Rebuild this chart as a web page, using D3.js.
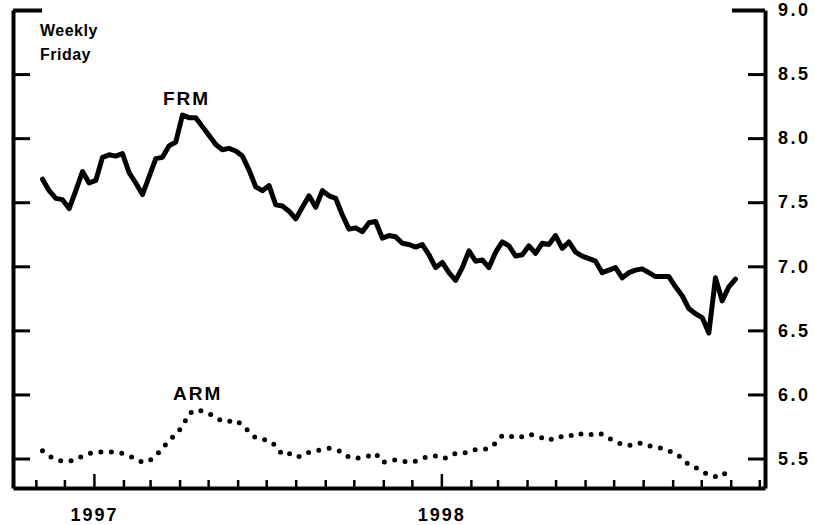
<!DOCTYPE html>
<html>
<head>
<meta charset="utf-8">
<script src="https://cdn.jsdelivr.net/npm/d3@7"></script>
<style>
  body { margin: 0; background: #fff; }
  svg text { font-family: "Liberation Sans", Arial, sans-serif; font-weight: bold; fill: #000; }
</style>
</head>
<body>
<div id="chart"></div>
<script>
// Mortgage rates, weekly (Friday), percent
const firstFriday = new Date(1996, 10, 8);

const frm = [
  7.68, 7.59, 7.53, 7.52, 7.45, 7.59, 7.74, 7.65, 7.67, 7.85,
  7.87, 7.86, 7.88, 7.73, 7.65, 7.56, 7.70, 7.84, 7.85, 7.94,
  7.97, 8.18, 8.16, 8.16, 8.09, 8.02, 7.95, 7.91, 7.92, 7.90,
  7.86, 7.75, 7.62, 7.59, 7.63, 7.48, 7.47, 7.43, 7.37, 7.46,
  7.55, 7.46, 7.59, 7.55, 7.53, 7.40, 7.29, 7.30, 7.27, 7.34,
  7.35, 7.22, 7.24, 7.23, 7.18, 7.17, 7.15, 7.17, 7.09, 6.99,
  7.03, 6.95, 6.89, 6.99, 7.12, 7.04, 7.05, 6.99, 7.11, 7.19,
  7.16, 7.08, 7.09, 7.16, 7.10, 7.18, 7.17, 7.24, 7.14, 7.19,
  7.11, 7.08, 7.06, 7.04, 6.95, 6.97, 6.99, 6.91, 6.95, 6.97,
  6.98, 6.95, 6.92, 6.92, 6.92, 6.84, 6.77, 6.67, 6.63, 6.60,
  6.48, 6.91, 6.73, 6.84, 6.90
];

const arm = [
  5.56, 5.52, 5.49, 5.48, 5.48, 5.49, 5.52, 5.54, 5.55, 5.55,
  5.55, 5.55, 5.54, 5.52, 5.50, 5.47, 5.48, 5.52, 5.58, 5.64,
  5.69, 5.75, 5.85, 5.88, 5.87, 5.85, 5.82, 5.79, 5.79, 5.80,
  5.76, 5.71, 5.66, 5.65, 5.64, 5.60, 5.53, 5.54, 5.51, 5.52,
  5.55, 5.56, 5.57, 5.58, 5.57, 5.55, 5.51, 5.50, 5.51, 5.52,
  5.54, 5.47, 5.48, 5.49, 5.48, 5.47, 5.48, 5.50, 5.52, 5.52,
  5.50, 5.51, 5.54, 5.54, 5.55, 5.57, 5.57, 5.58, 5.62, 5.68,
  5.68, 5.66, 5.67, 5.69, 5.68, 5.66, 5.64, 5.67, 5.67, 5.67,
  5.70, 5.69, 5.68, 5.70, 5.69, 5.66, 5.63, 5.61, 5.60, 5.62,
  5.62, 5.60, 5.59, 5.58, 5.56, 5.54, 5.50, 5.45, 5.43, 5.40,
  5.37, 5.36, 5.36, 5.42
];

const yTicks = [5.5, 6.0, 6.5, 7.0, 7.5, 8.0, 8.5, 9.0];

const width = 815, height = 525;
const plotLeft = 13, plotRight = 765, plotTop = 10, plotBottom = 488;

const dates = d3.timeFriday.every(1).range(firstFriday, d3.timeDay.offset(firstFriday, 7 * frm.length));

const svg = d3.select("#chart").append("svg")
    .attr("width", width)
    .attr("height", height);

const x = d3.scaleTime()
    .domain([new Date(1996, 9, 8), new Date(1998, 11, 7)])
    .range([plotLeft, plotRight]);

const y = d3.scaleLinear()
    .domain([5.27, 9])
    .range([plotBottom, plotTop]);

// axes
const xAxis = d3.axisBottom(x)
    .ticks(d3.timeMonth.every(1))
    .tickSizeInner(-8)
    .tickSizeOuter(0)
    .tickPadding(20)
    .tickFormat(d => d.getMonth() === 0 ? d3.timeFormat("%Y")(d) : "");

const gx = svg.append("g")
    .attr("transform", `translate(0,${plotBottom})`)
    .call(xAxis);
gx.selectAll(".tick line")
    .attr("y2", d => d.getMonth() === 0 ? -14 : -8)
    .attr("stroke-width", 2.5);
gx.selectAll("text").attr("font-size", 18).style("letter-spacing", "2px");

const yRight = d3.axisRight(y)
    .tickValues(yTicks)
    .tickSizeInner(-17)
    .tickSizeOuter(0)
    .tickPadding(13)
    .tickFormat(d3.format(".1f"));

const gr = svg.append("g")
    .attr("transform", `translate(${plotRight},0)`)
    .call(yRight);
gr.selectAll(".tick line")
    .attr("x2", d => d === 9 ? -33 : -17)
    .attr("stroke-width", d => d === 9 ? 4 : 3);
gr.selectAll("text").attr("font-size", 18).style("letter-spacing", "2.5px");

const yLeft = d3.axisLeft(y)
    .tickValues(yTicks)
    .tickSizeInner(-17)
    .tickSizeOuter(0)
    .tickFormat("");

const gl = svg.append("g")
    .attr("transform", `translate(${plotLeft},0)`)
    .call(yLeft);
gl.selectAll(".tick line")
    .attr("x2", d => d === 9 ? 29 : 17)
    .attr("stroke-width", d => d === 9 ? 4 : 3);

svg.selectAll(".domain")
    .attr("stroke", "#000")
    .attr("stroke-width", 4);
svg.selectAll(".tick line").attr("stroke", "#000");

// series
const line = d3.line()
    .x((d, i) => x(dates[i]))
    .y(d => y(d));

svg.append("path")
    .datum(frm)
    .attr("fill", "none")
    .attr("stroke", "#000")
    .attr("stroke-width", 5)
    .attr("stroke-linejoin", "round")
    .attr("stroke-linecap", "round")
    .attr("d", line);

svg.append("path")
    .datum(arm)
    .attr("fill", "none")
    .attr("stroke", "#000")
    .attr("stroke-width", 5)
    .attr("stroke-linecap", "round")
    .attr("stroke-dasharray", "0,10.5")
    .attr("d", line);

// labels
svg.append("text")
    .attr("x", 40).attr("y", 36)
    .attr("font-size", 16)
    .style("letter-spacing", "0.5px")
    .text("Weekly");
svg.append("text")
    .attr("x", 40).attr("y", 60)
    .attr("font-size", 16)
    .style("letter-spacing", "0.5px")
    .text("Friday");

svg.append("text")
    .attr("x", 163).attr("y", 105)
    .attr("font-size", 19)
    .style("letter-spacing", "2px")
    .text("FRM");

svg.append("text")
    .attr("x", 173).attr("y", 400)
    .attr("font-size", 19)
    .style("letter-spacing", "2px")
    .text("ARM");
</script>
</body>
</html>
